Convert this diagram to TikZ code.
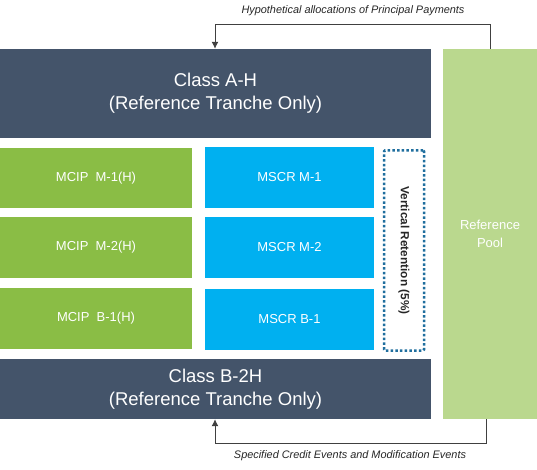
\documentclass[tikz,border=0pt]{standalone}
\usepackage{fontspec}
\setmainfont{Liberation Sans}
\usetikzlibrary{arrows.meta}
\definecolor{slate}{HTML}{44546A}
\definecolor{mgreen}{HTML}{8ABD45}
\definecolor{mblue}{HTML}{00B0F0}
\definecolor{pool}{HTML}{BAD88E}
\definecolor{dotc}{HTML}{1F6E9E}
\definecolor{lbl}{HTML}{262626}
\tikzset{
  blk/.style={rectangle, inner sep=0pt, text=white, align=center},
  classbox/.style={blk, fill=slate, font=\fontsize{18.5}{23}\selectfont},
  mcip/.style={blk, fill=mgreen, minimum width=192pt, font=\fontsize{13}{16}\selectfont},
  mscr/.style={blk, fill=mblue, minimum width=169pt, font=\fontsize{13}{16}\selectfont},
  conn/.style={draw=black!75, line width=1pt, -{Latex[length=7pt,width=7pt]}},
  lab/.style={text=lbl, font=\fontsize{10.9}{12}\selectfont\itshape},
}
\begin{document}
\begin{tikzpicture}[x=1pt,y=-1pt]
\useasboundingbox (0,0) rectangle (537,470);
\node[classbox, minimum width=431pt, minimum height=89pt] (ah) at (215.5,93.5) {Class A-H\\(Reference Tranche Only)};
\node[classbox, minimum width=431pt, minimum height=60pt] (b2) at (215.5,389) {Class B-2H\\(Reference Tranche Only)};
\node[blk, fill=pool, minimum width=94pt, minimum height=370pt, font=\fontsize{13}{18}\selectfont] (pool) at (490,234) {Reference\\Pool};
\node[mcip, minimum height=60pt] (c1) at (96,178) {MCIP\ \ M-1(H)};
\node[mcip, minimum height=61pt] (c2) at (96,247.5) {MCIP\ \ M-2(H)};
\node[mcip, minimum height=61pt] (c3) at (96,318.5) {MCIP\ \ B-1(H)};
\node[mscr, minimum height=61pt] (s1) at (289.5,177.5) {MSCR M-1};
\node[mscr, minimum height=61pt] (s2) at (289.5,247.5) {MSCR M-2};
\node[mscr, minimum height=61pt] (s3) at (289.5,319.5) {MSCR B-1};
\node[rectangle, draw=dotc, line width=2.5pt, dash pattern=on 2.5pt off 2.2pt, minimum width=40pt, minimum height=200pt, rounded corners=1pt] (vr) at (404,250.5) {};
\node[rotate=-90, font=\fontsize{11.8}{14}\selectfont\bfseries, text=lbl] (vrt) at (vr.center) {Vertical Retention (5\%)};
\coordinate (tl) at (215,25);
\draw[conn] (pool.north) |- (tl) -- (ah.north -| tl);
\coordinate (br) at (486,443);
\coordinate (bl) at (215,443);
\draw[conn] (pool.south -| br) -- (br) -- (bl) -- (b2.south -| bl);
\node[lab] (tlab) at (353,11) {Hypothetical allocations of Principal Payments};
\node[lab] (blab) at (350,456) {Specified Credit Events and Modification Events};
\end{tikzpicture}
\end{document}
